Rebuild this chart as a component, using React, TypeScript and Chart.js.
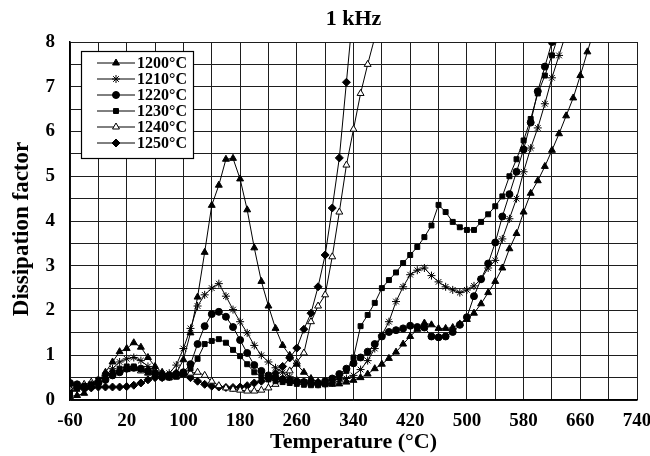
import React, { useEffect, useRef } from 'react';
import { Chart, registerables } from 'chart.js';
import { drawPoint } from 'chart.js/helpers';

Chart.register(...registerables);

const chartTitle = '1 kHz';
const xTitle = 'Temperature (°C)';
const yTitle = 'Dissipation factor';

const temps = [
  -60, -50, -40, -30, -20, -10, 0, 10, 20, 30, 40, 50, 60, 70, 80, 90,
  100, 110, 120, 130, 140, 150, 160, 170, 180, 190, 200, 210, 220, 230, 240, 250,
  260, 270, 280, 290, 300, 310, 320, 330, 340, 350, 360, 370, 380, 390, 400, 410,
  420, 430, 440, 450, 460, 470, 480, 490, 500, 510, 520, 530, 540, 550, 560, 570,
  580, 590, 600, 610, 620, 630, 640, 650, 660, 670, 680,
];

const labels = ['1200°C', '1210°C', '1220°C', '1230°C', '1240°C', '1250°C'];

const d1200 = [
  0.08, 0.1, 0.15, 0.3, 0.42, 0.62, 0.85, 1.08, 1.15, 1.28, 1.18, 0.95, 0.75, 0.62, 0.55, 0.6,
  0.9, 1.5, 2.3, 3.3, 4.35, 4.8, 5.38, 5.4, 4.94, 4.25, 3.4, 2.65, 2.1, 1.6, 1.22, 1.0,
  0.8, 0.62, 0.48, 0.4, 0.36, 0.35, 0.36, 0.4, 0.44, 0.5, 0.58, 0.7, 0.8, 0.93, 1.07, 1.25,
  1.42, 1.58, 1.72, 1.68, 1.6, 1.6, 1.62, 1.7, 1.8, 1.94, 2.15, 2.4, 2.65, 2.95, 3.38, 3.72,
  4.2, 4.62, 4.9, 5.22, 5.58, 5.95, 6.35, 6.75, 7.25, 7.78, 8.3,
];

const d1210 = [
  0.2, 0.25, 0.3, 0.35, 0.42, 0.55, 0.7, 0.85, 0.92, 0.95, 0.88, 0.75, 0.65, 0.58, 0.6, 0.78,
  1.15, 1.6, 2.1, 2.35, 2.5, 2.6, 2.32, 2.02, 1.75, 1.5, 1.22, 1.0, 0.85, 0.72, 0.62, 0.52,
  0.45, 0.4, 0.37, 0.35, 0.35, 0.38, 0.42, 0.48, 0.55, 0.68, 0.88, 1.15, 1.45, 1.75, 2.2, 2.53,
  2.8, 2.9, 2.95, 2.78, 2.64, 2.53, 2.46, 2.4, 2.46, 2.55, 2.7, 2.95, 3.12, 3.6, 4.05, 4.5,
  5.1, 5.63, 6.08, 6.62, 7.2, 7.7, 8.2,
];

const d1220 = [
  0.38, 0.35, 0.3, 0.32, 0.38, 0.45, 0.55, 0.62, 0.7, 0.72, 0.7, 0.65, 0.6, 0.55, 0.55, 0.58,
  0.62, 0.8, 1.25, 1.65, 1.92, 1.97, 1.86, 1.63, 1.34, 1.05, 0.78, 0.65, 0.55, 0.5, 0.46, 0.43,
  0.41, 0.4, 0.38, 0.38, 0.42, 0.48, 0.58, 0.7, 0.82, 0.95, 1.08, 1.25, 1.42, 1.52, 1.56, 1.6,
  1.66, 1.63, 1.62, 1.42, 1.4, 1.42, 1.52, 1.68, 1.85, 2.32, 2.7, 3.05, 3.52, 4.1, 4.6, 5.1,
  5.6, 6.2, 6.9, 7.45, 8.0, 8.5,
];

const d1230 = [
  0.15, 0.25, 0.3, 0.35, 0.45, 0.55, 0.62, 0.7, 0.75, 0.75, 0.7, 0.62, 0.55, 0.5, 0.5, 0.52,
  0.58, 0.7, 0.92, 1.25, 1.32, 1.36, 1.28, 1.12, 0.98, 0.8, 0.62, 0.52, 0.46, 0.42, 0.4, 0.38,
  0.36, 0.34, 0.33, 0.33, 0.35, 0.4, 0.5, 0.65, 0.95, 1.65, 1.9, 2.17, 2.5, 2.68, 2.85, 3.06,
  3.24, 3.42, 3.64, 3.9, 4.36, 4.2, 3.98, 3.86, 3.8, 3.8, 3.98, 4.15, 4.33, 4.55, 5.0, 5.38,
  5.8, 6.28, 6.85, 7.25, 7.7, 8.2,
];

const d1240 = [
  0.25, 0.3, 0.35, 0.4, 0.45, 0.52, 0.6, 0.65, 0.68, 0.7, 0.65, 0.6, 0.55, 0.52, 0.5, 0.52,
  0.55, 0.6, 0.62, 0.55, 0.42, 0.32, 0.27, 0.24, 0.22, 0.2, 0.2, 0.22, 0.27, 0.35, 0.48, 0.65,
  0.85, 1.05, 1.75, 2.1, 2.35, 3.2, 4.2, 5.25, 6.05, 6.85, 7.5, 8.1,
];

const d1250 = [
  0.35, 0.3, 0.25, 0.27, 0.29, 0.29, 0.29, 0.29, 0.3, 0.33, 0.38, 0.45, 0.5, 0.5, 0.52, 0.6,
  0.58, 0.5, 0.42, 0.35, 0.31, 0.29, 0.28, 0.28, 0.29, 0.32, 0.38, 0.42, 0.48, 0.6, 0.75, 0.94,
  1.16, 1.58, 1.94, 2.53, 3.24, 4.29, 5.41, 7.1, 8.8,
];

const seriesValues = [d1200, d1210, d1220, d1230, d1240, d1250];
const pointStyles = ['triangle', 'star', 'circle', 'rect', 'triangle', 'rectRot'];
const pointFills = ['#000', '#000', '#000', '#000', '#fff', '#000'];
const pointRadii = [4, 4, 3.5, 3.5, 4, 4];

const xTickValues = [-60, 20, 100, 180, 260, 340, 420, 500, 580, 660, 740];
const yTickValues = [0, 1, 2, 3, 4, 5, 6, 7, 8];

const FONT = "'Liberation Serif', 'Times New Roman', serif";

const titlePlugin = {
  id: 'topTitle',
  afterDraw(chart: any) {
    const { ctx, chartArea } = chart;
    ctx.save();
    ctx.font = `bold 22px ${FONT}`;
    ctx.fillStyle = '#000';
    ctx.textAlign = 'center';
    ctx.textBaseline = 'middle';
    ctx.fillText(chartTitle, (chartArea.left + chartArea.right) / 2, 19);
    // vertical axis title
    ctx.translate(22, 229);
    ctx.rotate(-Math.PI / 2);
    ctx.font = `bold 23px ${FONT}`;
    ctx.fillText(yTitle, 0, 0);
    ctx.restore();
  },
};

const legendPlugin = {
  id: 'boxLegend',
  beforeDatasetsDraw(chart: any) {
    const { ctx } = chart;
    const bx = 81, by = 51, bw = 112, bh = 107;
    ctx.save();
    ctx.fillStyle = '#fff';
    ctx.fillRect(bx, by, bw, bh);
    ctx.strokeStyle = '#000';
    ctx.lineWidth = 1.2;
    ctx.strokeRect(bx + 0.5, by + 0.5, bw, bh);
    chart.data.datasets.forEach((ds: any, i: number) => {
      const y = 63 + i * 16;
      ctx.strokeStyle = '#000';
      ctx.lineWidth = 1;
      ctx.beginPath();
      ctx.moveTo(97, y);
      ctx.lineTo(135, y);
      ctx.stroke();
      ctx.fillStyle = ds.pointBackgroundColor;
      ctx.strokeStyle = '#000';
      ctx.lineWidth = 1;
      drawPoint(ctx, { pointStyle: ds.pointStyle, rotation: 0, radius: ds.pointRadius, borderWidth: 1 }, 116, y);
      ctx.fillStyle = '#000';
      ctx.font = `bold 16px ${FONT}`;
      ctx.textAlign = 'left';
      ctx.textBaseline = 'middle';
      ctx.fillText(ds.label, 137, y + 1);
    });
    ctx.restore();
  },
};

export default function App() {
  const canvasRef = useRef<HTMLCanvasElement | null>(null);

  useEffect(() => {
    const canvas = canvasRef.current;
    if (!canvas) return;
    const datasets = seriesValues.map((vals, i) => ({
      label: labels[i],
      data: vals.map((v, j) => ({ x: temps[j], y: v })),
      borderColor: '#000',
      borderWidth: 1,
      backgroundColor: pointFills[i],
      pointStyle: pointStyles[i],
      pointRadius: pointRadii[i],
      pointBackgroundColor: pointFills[i],
      pointBorderColor: '#000',
      pointBorderWidth: 1,
      tension: 0,
      fill: false,
    }));

    const chart = new Chart(canvas, {
      type: 'line',
      data: { datasets },
      options: {
        animation: false,
        responsive: false,
        maintainAspectRatio: false,
        layout: { padding: { left: 0, right: 13, top: 42, bottom: 0 } },
        plugins: {
          legend: { display: false },
          title: { display: false },
          tooltip: { enabled: false },
        },
        scales: {
          x: {
            type: 'linear',
            min: -60,
            max: 740,
            afterFit: (s: any) => { s.height = 56; s.paddingRight = 0; s.paddingLeft = 0; },
            ticks: {
              stepSize: 40,
              autoSkip: false,
              maxRotation: 0,
              minRotation: 0,
              padding: 10,
              color: '#000',
              font: { family: FONT, size: 19, weight: 'bold' },
              callback: (v: any) => (xTickValues.includes(Number(v)) ? String(v) : ''),
            },
            grid: { color: '#1e1e1e', lineWidth: 1, drawTicks: false },
            border: { color: '#000', width: 1.5 },
            title: {
              display: true,
              text: xTitle,
              color: '#000',
              font: { family: FONT, size: 22, weight: 'bold' },
              padding: { top: 0, bottom: 0 },
            },
          },
          y: {
            type: 'linear',
            min: 0,
            max: 8,
            afterFit: (s: any) => { s.width = 70; s.paddingTop = 0; s.paddingBottom = 0; },
            ticks: {
              stepSize: 0.5,
              autoSkip: false,
              padding: 15,
              color: '#000',
              font: { family: FONT, size: 19, weight: 'bold' },
              callback: (v: any) => (yTickValues.includes(Number(v)) ? String(v) : ''),
            },
            grid: { color: '#1e1e1e', lineWidth: 1, drawTicks: false },
            border: { color: '#000', width: 1.5 },
            title: { display: false },
          },
        },
      },
      plugins: [titlePlugin, legendPlugin],
    } as any);

    return () => chart.destroy();
  }, []);

  return (
    <div style={{ position: 'absolute', left: 0, top: 0, width: 650, height: 456, background: '#fff' }}>
      <canvas ref={canvasRef} width={650} height={456} style={{ width: 650, height: 456, display: 'block' }} />
    </div>
  );
}
